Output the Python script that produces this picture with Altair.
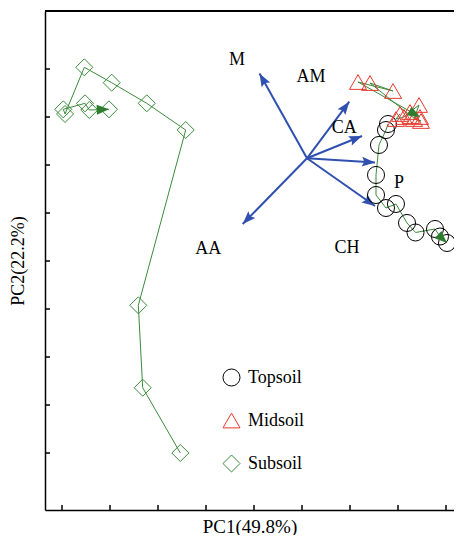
import math
import altair as alt
import pandas as pd

# ---------------- data (score units; one axis tick = 1 unit) ----------------
soils = ["Topsoil", "Midsoil", "Subsoil"]

top_x = [6.792, 6.750, 6.604, 6.542, 6.542, 6.750, 6.958, 7.188, 7.365, 7.771, 7.875, 8.021]
top_y = [6.854, 6.729, 6.417, 5.792, 5.375, 5.104, 5.188, 4.792, 4.594, 4.667, 4.510, 4.375]

mid_x = [7.042, 6.958, 7.125, 7.250, 7.438, 7.333, 7.479, 7.270, 6.417, 6.896, 6.167, 7.458]
mid_y = [7.063, 6.958, 7.000, 7.104, 7.250, 6.958, 6.917, 7.020, 7.708, 7.542, 7.729, 7.000]

sub_x = [2.465, 1.681, 1.590, 2.577, 1.765, 1.035, 0.465, 0.063, 0.027, 0.479, 0.569, 0.979]
sub_y = [0.000, 1.360, 3.077, 6.729, 7.285, 7.715, 8.035, 7.063, 7.160, 7.285, 7.146, 7.160]

vec_origin = (5.104, 6.140)
vec_names = ["M", "AM", "CA", "P", "CH", "AA"]
vec_x = [4.115, 5.985, 6.250, 6.521, 6.521, 3.765]
vec_y = [7.906, 7.319, 6.604, 6.052, 5.146, 4.771]

lab_names = ["M", "AM", "CA", "P", "CH", "AA"]
lab_x = [3.646, 5.188, 5.881, 7.021, 5.938, 3.048]
lab_y = [8.188, 7.833, 6.765, 5.619, 4.265, 4.244]

tick_vals = [0, 1, 2, 3, 4, 5, 6, 7, 8]

x_title = "PC1(49.8%)"
y_title = "PC2(22.2%)"

# ---------------- tables ----------------
rows = []
for name, xs, ys in zip(soils, [top_x, mid_x, sub_x], [top_y, mid_y, sub_y]):
    for i, (a, b) in enumerate(zip(xs, ys)):
        rows.append({"soil": name, "i": i, "x": a, "y": b})
pts = pd.DataFrame(rows)


def head_angle(dx, dy):
    return math.degrees(math.atan2(dx, dy)) % 360


heads = []
for name, xs, ys in zip(soils, [top_x, mid_x, sub_x], [top_y, mid_y, sub_y]):
    heads.append({"soil": name, "x": xs[-1], "y": ys[-1],
                  "ang": head_angle(xs[-1] - xs[-2], ys[-1] - ys[-2])})
heads = pd.DataFrame(heads)

vecs = pd.DataFrame({
    "name": vec_names,
    "x0": [vec_origin[0]] * len(vec_names),
    "y0": [vec_origin[1]] * len(vec_names),
    "x": vec_x,
    "y": vec_y,
})
vecs["ang"] = [head_angle(a - vec_origin[0], b - vec_origin[1]) for a, b in zip(vec_x, vec_y)]

labs = pd.DataFrame({"name": lab_names, "x": lab_x, "y": lab_y})
ticks = pd.DataFrame({"t": tick_vals})

# ---------------- layout ----------------
W, H = 409, 499
xs_scale = alt.Scale(domain=[-0.3542, 8.1667], nice=False, zero=False)
ys_scale = alt.Scale(domain=[-1.1875, 9.2083], nice=False, zero=False)

GREEN = "#3b8b3b"
DGREEN = "#2e7d2e"
RED = "#e8392e"
BLUE = "#3050b0"
ARROW = "M0,0L-0.75,2L0,1.65L0.75,2Z"
GARROW = "M0,0L-0.8,2L0.8,2Z"


def X(f, **kw):
    return alt.X(f, type="quantitative", scale=xs_scale, **kw)


def Y(f, **kw):
    return alt.Y(f, type="quantitative", scale=ys_scale, **kw)


x_axis = alt.Axis(ticks=False, labels=False, grid=False, domainColor="black",
                  domainWidth=1.5, title=x_title, titleFontSize=19,
                  titleFontWeight="normal", titleColor="black", titlePadding=7)
y_axis = alt.Axis(ticks=False, labels=False, grid=False, domainColor="black",
                  domainWidth=1.5, title=y_title, titleFontSize=18,
                  titleFontWeight="normal", titleColor="black", titlePadding=18)

base_axes = alt.Chart(ticks).mark_rule(color="black", strokeWidth=1.5).encode(
    x=X("t", axis=x_axis), y=alt.value(H), y2=alt.value(H - 5)
)
y_ticks = alt.Chart(ticks).mark_rule(color="black", strokeWidth=1.5).encode(
    y=Y("t", axis=y_axis), x=alt.value(0), x2=alt.value(5)
)
top_line = alt.Chart(ticks).mark_rule(color="black", strokeWidth=1.5).encode(
    x=alt.value(0), x2=alt.value(W), y=alt.value(0)
)

paths = alt.Chart(pts).mark_line(color=GREEN, strokeWidth=1).encode(
    x=X("x"), y=Y("y"), detail="soil:N", order="i:Q"
)

path_heads = alt.Chart(heads).mark_point(
    shape=GARROW, filled=True, color=DGREEN, size=150, opacity=1
).encode(x=X("x"), y=Y("y"), angle=alt.Angle("ang:Q", scale=None))

legend = alt.Legend(title=None, orient="none", legendX=177, legendY=357,
                    padding=0, symbolSize=290, symbolStrokeWidth=1,
                    labelFontSize=18, labelColor="black", labelOffset=7,
                    rowPadding=22, labelFont="Liberation Serif",
                    labelFontWeight="normal")

points = alt.Chart(pts).mark_point(filled=False, size=290, strokeWidth=1, opacity=1).encode(
    x=X("x"), y=Y("y"),
    shape=alt.Shape("soil:N", scale=alt.Scale(domain=soils,
                    range=["circle", "triangle-up", "diamond"]), legend=legend),
    color=alt.Color("soil:N", scale=alt.Scale(domain=soils,
                    range=["black", RED, GREEN]), legend=legend),
)

vec_lines = alt.Chart(vecs).mark_rule(color=BLUE, strokeWidth=2).encode(
    x=X("x0"), y=Y("y0"), x2="x", y2="y"
)
vec_heads = alt.Chart(vecs).mark_point(
    shape=ARROW, filled=True, color=BLUE, size=170, opacity=1
).encode(x=X("x"), y=Y("y"), angle=alt.Angle("ang:Q", scale=None))

labels = alt.Chart(labs).mark_text(fontSize=18, color="black", align="center",
                                   baseline="middle", fontWeight="normal").encode(
    x=X("x"), y=Y("y"), text="name:N"
)

chart = alt.layer(
    base_axes, y_ticks, top_line, vec_lines, vec_heads, paths, points,
    path_heads, labels
).properties(
    width=W, height=H,
    autosize=alt.AutoSizeParams(type="none"),
    padding={"left": 37, "top": 3, "right": 0, "bottom": 25},
).configure(font="Liberation Serif").configure_view(stroke=None)

chart.save("out.html", embed_options={"renderer": "svg", "actions": False})
